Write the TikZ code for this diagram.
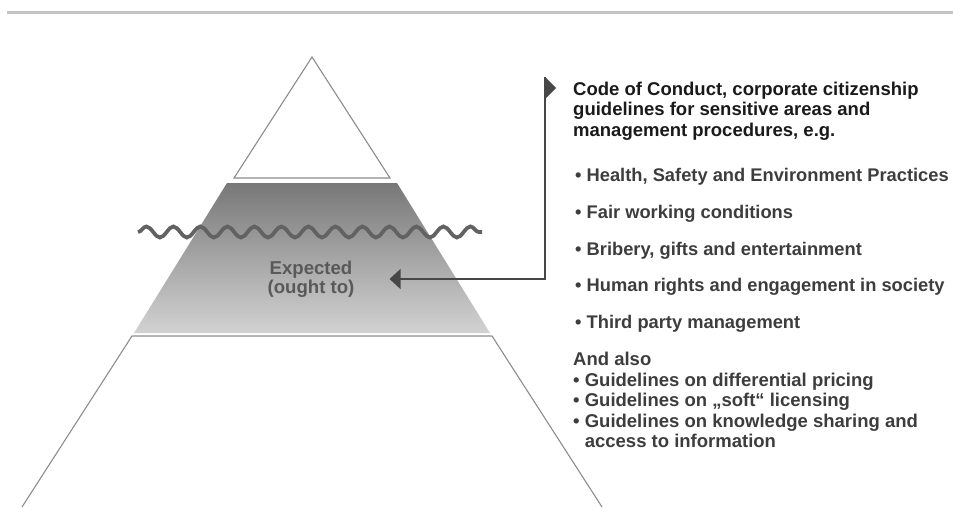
\documentclass[tikz,border=0pt]{standalone}
\usepackage{fontspec}
\setmainfont{Liberation Sans}
\usetikzlibrary{positioning,arrows.meta,decorations.pathmorphing}
\definecolor{rimgray}{HTML}{8C8C8C}
\definecolor{topband}{HTML}{787878}
\definecolor{lowband}{HTML}{D2D2D2}
\definecolor{wavegray}{HTML}{626262}
\definecolor{pointgray}{HTML}{474747}
\definecolor{labelgray}{HTML}{595959}
\definecolor{itemgray}{HTML}{3D3D3D}
\definecolor{headblack}{HTML}{1A1A1A}
\definecolor{ruleline}{HTML}{C4C4C4}
\newcommand{\itm}{\textbullet\ }

\begin{document}
\begin{tikzpicture}[x=1pt,y=-1pt,
    rim/.style={draw=rimgray,line width=1.1pt},
    waterline/.style={draw=wavegray,line width=3.8pt,decorate,decoration={snake,segment length=27pt,amplitude=5.5pt}},
    pointer/.style={draw=pointgray,line width=1.4pt},
    txt/.style={inner sep=0pt,align=left,font=\fontsize{18.5}{20.5}\selectfont\bfseries},
    item/.style={txt,text=itemgray,anchor=base west,font=\fontsize{18.3}{20.5}\selectfont\bfseries}]
  \useasboundingbox (0,0) rectangle (953,507);
  \draw[ruleline,line width=3.3pt] (7,12.7) -- (953,12.7);
  \draw[rim,fill=white] (312,57) -- (390,178) -- (234,178) -- cycle;
  \shade[top color=topband,bottom color=lowband] (227,183) -- (397,183) -- (490,333) -- (134,333) -- cycle;
  \draw[rim] (22,507) -- (132,336) -- (492,336) -- (602,507);
  \draw[waterline] (138,232) -- (482,232);
  \node[txt,align=center,text=labelgray,font=\fontsize{18.6}{18.5}\selectfont\bfseries] (expected) at (311,279) {Expected\\(ought to)};
  \node[txt,anchor=north west,text=headblack] (code) at (573,81.5) {Code of Conduct, corporate citizenship\\guidelines for sensitive areas and\\management procedures, e.g.};
  \node[item] (health) at (575,181.7) {\itm Health, Safety and Environment Practices};
  \node[item,below=36.7pt of health.base west,anchor=base west] (fair) {\itm Fair working conditions};
  \node[item,below=36.7pt of fair.base west,anchor=base west] (bribery) {\itm Bribery, gifts and entertainment};
  \node[item,below=36.7pt of bribery.base west,anchor=base west] (rights) {\itm Human rights and engagement in society};
  \node[item,below=36.7pt of rights.base west,anchor=base west] (third) {\itm Third party management};
  \node[txt,anchor=north west,text=itemgray] (also) at (573,352) {And also\\\itm Guidelines on differential pricing\\\itm Guidelines on „soft“ licensing\\\itm Guidelines on knowledge sharing and\\\phantom{\itm}access to information};
  \coordinate (hook) at (545,77);
  \fill[pointgray] (hook) -- ++(11,11) -- ++(-11,11) -- cycle;
  \draw[pointer,-{Triangle[length=11pt,width=20pt]}] (hook) |- ([xshift=35pt]expected.east);
\end{tikzpicture}
\end{document}
